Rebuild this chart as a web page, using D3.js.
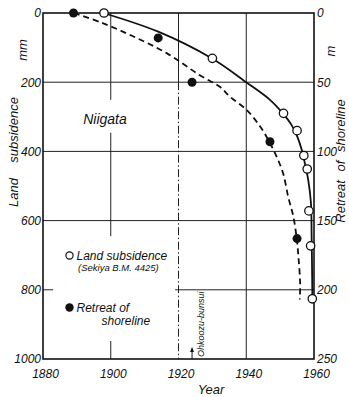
<!DOCTYPE html>
<html>
<head>
<meta charset="utf-8">
<script src="https://cdn.jsdelivr.net/npm/d3@7"></script>
<style>
  html, body { margin: 0; padding: 0; background: #fff; }
  svg { display: block; }
  text { font-family: "Liberation Sans", Arial, sans-serif; font-style: italic; fill: #111; }
</style>
</head>
<body>
<svg id="chart" width="349" height="397"></svg>
<script>
// Land subsidence at bench mark Sekiya B.M. 4425 (mm, left axis)
const subsYears = [1898, 1930, 1951, 1955, 1957, 1958, 1958.5, 1959, 1959.5];
const subsMM    = [0, 131, 290, 340, 412, 451, 572, 673, 826];

// Retreat of shoreline (m, right axis)
const shoreYears = [1889, 1914, 1924, 1947, 1955];
const shoreM     = [0, 18, 50, 93, 163];

// Smoothed trend through the subsidence observations (mm)
const subsTrendYears = [1897.8, 1914, 1929.8, 1940.1, 1947, 1950.8, 1953.4, 1955.1, 1956.4, 1957.3, 1958.3, 1959.1, 1959.3, 1959.5, 1959.5];
const subsTrendMM    = [0, 54, 131, 201, 251, 290, 324, 358, 396, 434, 483, 549, 647, 801, 826];

// Smoothed trend through the shoreline observations (m)
const shoreTrendYears = [1889.1, 1897.3, 1906.7, 1916.5, 1926.3, 1932.2, 1935.2, 1940.1, 1944.1, 1946.8, 1949.0, 1950.9, 1952.4, 1953.9, 1954.9, 1955.4, 1955.9, 1955.8];
const shoreTrendM     = [0, 7, 17, 29, 45, 53.3, 60.5, 70, 82, 93, 104, 116, 133, 147, 163, 176, 195, 207];

// Axis ticks
const yearTicks = [1880, 1900, 1920, 1940, 1960];
const mmTicks = [0, 200, 400, 600, 800, 1000];
const mTicks = [0, 50, 100, 150, 200, 250];

// Labels
const placeName = "Niigata";
const eventYear = 1924;
const eventLabel = "Ohkoozu-bunsui";

const svg = d3.select("#chart");
const L = 43, T = 13, R = 314, B = 359;

const x = d3.scaleLinear().domain([1880, 1960]).range([L, R]);
const yL = d3.scaleLinear().domain([0, 1000]).range([T, B]);
const yR = d3.scaleLinear().domain([0, 250]).range([T, B]);

// Grid: segments in data units, broken where labels sit
const grid = svg.append("g").attr("stroke", "#222").attr("stroke-width", 1).attr("fill", "none");
const vSegs = [
  { year: 1900, from: 0, to: 251 },
  { year: 1900, from: 346, to: 645 },
  { year: 1900, from: 948, to: 1000 },
  { year: 1920, from: 0, to: 200 },
  { year: 1920, from: 200, to: 1000, dash: "8,2.5,1.5,2.5" },
  { year: 1940, from: 0, to: 1000 }
];
vSegs.forEach(s => {
  grid.append("line")
    .attr("x1", x(s.year)).attr("x2", x(s.year))
    .attr("y1", yL(s.from)).attr("y2", yL(s.to))
    .attr("stroke-dasharray", s.dash || null);
});
const hSegs = [
  { mm: 200, from: 1880, to: 1960 },
  { mm: 400, from: 1880, to: 1960 },
  { mm: 600, from: 1880, to: 1960 },
  { mm: 800, from: 1880, to: 1883 },
  { mm: 800, from: 1919, to: 1960 }
];
hSegs.forEach(s => {
  grid.append("line")
    .attr("x1", x(s.from)).attr("x2", x(s.to))
    .attr("y1", yL(s.mm)).attr("y2", yL(s.mm));
});

// Frame
svg.append("rect")
  .attr("x", L).attr("y", T).attr("width", R - L).attr("height", B - T)
  .attr("fill", "none").attr("stroke", "#111").attr("stroke-width", 1.6);

// Axes (labels only; the frame is the axis line)
const tickFont = g => g.selectAll("text")
  .style("font-family", "'Liberation Sans', Arial, sans-serif")
  .style("font-style", "italic").style("font-size", "12px").attr("fill", "#111");

svg.append("g").attr("transform", `translate(${L - 2},0)`)
  .call(d3.axisLeft(yL).tickValues(mmTicks).tickSize(0).tickPadding(0).tickFormat(d3.format("d")))
  .call(g => g.select(".domain").remove())
  .call(tickFont);

svg.append("g").attr("transform", `translate(${R + 3},0)`)
  .call(d3.axisRight(yR).tickValues(mTicks).tickSize(0).tickPadding(0).tickFormat(d3.format("d")))
  .call(g => g.select(".domain").remove())
  .call(tickFont);

svg.append("g").attr("transform", `translate(2,${B + 10})`)
  .call(d3.axisBottom(x).tickValues(yearTicks).tickSize(0).tickPadding(0).tickFormat(d3.format("d")))
  .call(g => g.select(".domain").remove())
  .call(tickFont);

// Axis titles
svg.append("text").attr("transform", "translate(27,50) rotate(-90)")
  .attr("text-anchor", "middle").style("font-size", "13px").text("mm");
svg.append("text").attr("transform", "translate(18,207) rotate(-90)")
  .attr("text-anchor", "start").style("font-size", "13px").text("Land");
svg.append("text").attr("transform", "translate(18,97) rotate(-90)")
  .attr("text-anchor", "end").style("font-size", "13px").text("subsidence");
svg.append("text").attr("transform", "translate(335,51) rotate(-90)")
  .attr("text-anchor", "middle").style("font-size", "13px").text("m");
svg.append("text").attr("transform", "translate(345,161) rotate(-90)")
  .attr("text-anchor", "middle").style("font-size", "13px").style("word-spacing", "5px")
  .text("Retreat of shoreline");
svg.append("text").attr("x", 211).attr("y", 394)
  .attr("text-anchor", "middle").style("font-size", "13px").text("Year");

// Place name
svg.append("text").attr("x", 105).attr("y", 124)
  .attr("text-anchor", "middle").style("font-size", "14px").text(placeName);

// Trend curves
const subsTrend = subsTrendYears.map((d, i) => [d, subsTrendMM[i]]);
const shoreTrend = shoreTrendYears.map((d, i) => [d, shoreTrendM[i]]);

svg.append("path")
  .datum(subsTrend)
  .attr("fill", "none").attr("stroke", "#111").attr("stroke-width", 1.8)
  .attr("d", d3.line().x(d => x(d[0])).y(d => yL(d[1])).curve(d3.curveCatmullRom.alpha(0.5)));

svg.append("path")
  .datum(shoreTrend)
  .attr("fill", "none").attr("stroke", "#111").attr("stroke-width", 1.8)
  .attr("stroke-dasharray", "6,4")
  .attr("d", d3.line().x(d => x(d[0])).y(d => yR(d[1])).curve(d3.curveCatmullRom.alpha(0.5)));

// Observations
svg.append("g").selectAll("circle")
  .data(shoreYears.map((d, i) => [d, shoreM[i]]))
  .join("circle")
  .attr("cx", d => x(d[0])).attr("cy", d => yR(d[1])).attr("r", 4.5)
  .attr("fill", "#111");

svg.append("g").selectAll("circle")
  .data(subsYears.map((d, i) => [d, subsMM[i]]))
  .join("circle")
  .attr("cx", d => x(d[0])).attr("cy", d => yL(d[1])).attr("r", 4.2)
  .attr("fill", "#fff").attr("stroke", "#111").attr("stroke-width", 1.3);

// Legend
const leg = svg.append("g");
leg.append("circle").attr("cx", 69.5).attr("cy", 255.5).attr("r", 3.6)
  .attr("fill", "#fff").attr("stroke", "#111").attr("stroke-width", 1.2);
leg.append("text").attr("x", 76.5).attr("y", 260).style("font-size", "12px").text("Land subsidence");
leg.append("text").attr("x", 78).attr("y", 271).style("font-size", "9.5px").text("(Sekiya B.M. 4425)");
leg.append("circle").attr("cx", 69.5).attr("cy", 307.5).attr("r", 4.2).attr("fill", "#111");
leg.append("text").attr("x", 76.5).attr("y", 312).style("font-size", "12px").text("Retreat of");
leg.append("text").attr("x", 101.5).attr("y", 324.5).style("font-size", "12px").text("shoreline");

// Event marker on the time axis
const ex = x(eventYear);
svg.append("line").attr("x1", ex).attr("x2", ex).attr("y1", B).attr("y2", B - 10)
  .attr("stroke", "#111").attr("stroke-width", 1);
svg.append("path")
  .attr("d", `M${ex},${B - 12} L${ex - 2},${B - 7} L${ex + 2},${B - 7} Z`)
  .attr("fill", "#111");
svg.append("text").attr("transform", `translate(${ex + 12},357) rotate(-90)`)
  .attr("text-anchor", "start").style("font-size", "9px").text(eventLabel);
</script>
</body>
</html>
